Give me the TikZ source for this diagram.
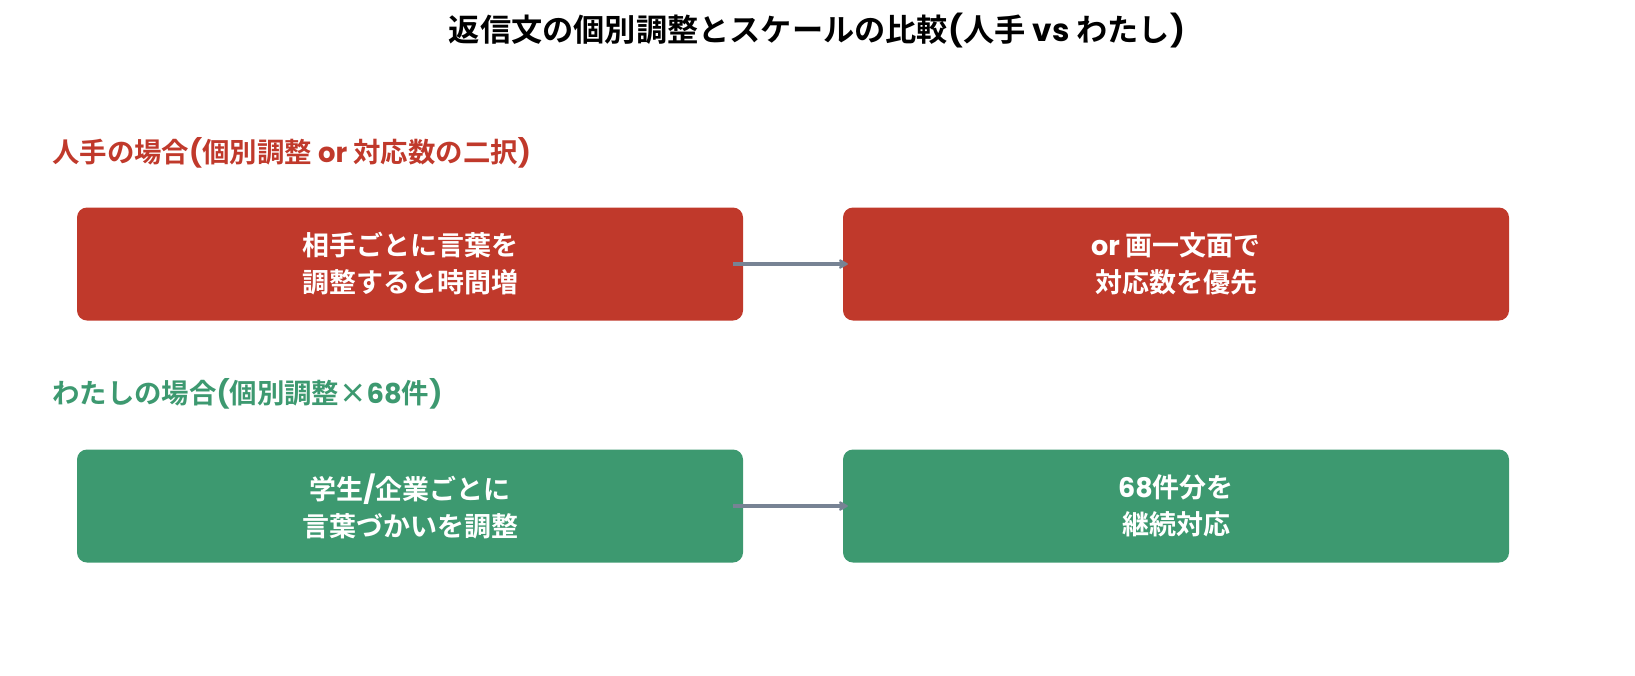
\documentclass[tikz,border=0pt]{standalone}
\usepackage{fontspec}
\setmainfont{Noto Sans CJK JP}[BoldFont={Noto Sans CJK JP Bold}]
\newfontfamily\lat{Poppins}[BoldFont={Poppins Bold}]
\usepackage{xcolor}
\usetikzlibrary{arrows.meta}

\definecolor{hitoRed}{HTML}{C0392B}
\definecolor{watashiGreen}{HTML}{3D9970}
\definecolor{arrowGray}{HTML}{778394}

\newcommand{\ltx}[1]{{\lat\bfseries #1}}

\tikzset{
  cardbox/.style={fill=#1, draw=none, rounded corners=10pt, minimum width=666pt, minimum height=113pt,
    text=white, align=center, font=\fontsize{27}{37}\selectfont\bfseries, inner sep=0pt},
  headtext/.style={anchor=west, inner sep=0pt, text=#1, font=\fontsize{27.4}{30}\selectfont\bfseries},
  flowarrow/.style={draw=arrowGray, line width=3.5pt, -{Stealth[length=11pt,width=12pt,inset=3pt,round]}}
}

\begin{document}
\begin{tikzpicture}[x=1pt,y=-1pt]
    \useasboundingbox (0,0) rectangle (1635,675);

    % Title
    \node (title) at (817,31) [inner sep=0pt, font=\fontsize{31.2}{36}\selectfont\bfseries] {返信文の個別調整とスケールの比較\ltx{(}人手 \ltx{vs} わたし\ltx{)}};

    % Text Node
    \node (headHito) at (52,153) [headtext=hitoRed] {人手の場合\ltx{(}個別調整 \ltx{or} 対応数の二択\ltx{)}};
    % Text Node
    \node (headWatashi) at (52,394) [headtext=watashiGreen] {わたしの場合\ltx{(}個別調整×\ltx{68}件\ltx{)}};

    % Rows
    \node (hitoA) at (410,264) [cardbox=hitoRed] {相手ごとに言葉を\\調整すると時間増};
    \node (hitoB) at (1176,264) [cardbox=hitoRed] {\ltx{or} 画一文面で\\対応数を優先};
    \node (watashiA) at (410,506) [cardbox=watashiGreen] {学生\ltx{/}企業ごとに\\言葉づかいを調整};
    \node (watashiB) at (1176,506) [cardbox=watashiGreen] {\ltx{68}件分を\\継続対応};

    % Arrows
    \draw [flowarrow] ([xshift=-10pt]hitoA.east) -- ([xshift=5pt]hitoB.west);
    \draw [flowarrow] ([xshift=-10pt]watashiA.east) -- ([xshift=5pt]watashiB.west);

\end{tikzpicture}
\end{document}
